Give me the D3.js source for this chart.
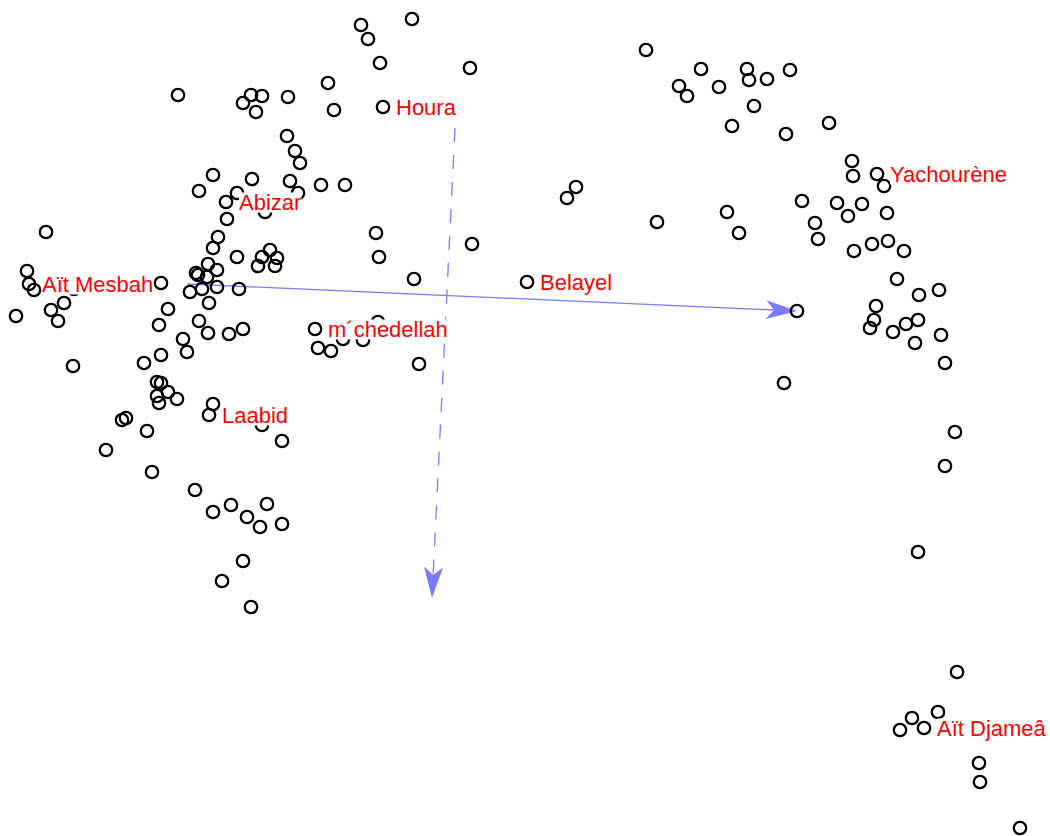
<!DOCTYPE html>
<html>
<head>
<meta charset="utf-8">
<script src="https://cdn.jsdelivr.net/npm/d3@7"></script>
<style>
  body { margin: 0; background: #fff; }
  svg { display: block; }
  .lbl { font-family: "Liberation Sans", Arial, sans-serif; font-size: 22px; fill: #ff0000; }
</style>
</head>
<body>
<div id="chart"></div>
<script>
// ============================= Datos: coordenadas de los individuos (eje 1, eje 2) =========================//
var ptX = [-2.67,-2.02,-1.94,-1.83,-1.89,-1.57,-1.17,-1.11,-1.58,-1.50,
  -1.45,-2.32,-1.93,-1.55,-1.24,-1.00,-2.46,-2.08,-1.47,-2.19,
  -1.80,-2.18,-3.99,-2.27,-2.32,-2.08,-1.75,-1.83,-1.68,-1.87,
  -1.70,-4.18,-2.37,-2.49,-2.47,-2.28,-2.38,-2.55,-2.43,-2.28,
  -2.06,-2.36,-2.77,-2.86,-2.46,-2.37,-2.16,-2.02,-2.62,-2.58,
  -2.84,-3.01,-2.88,-2.84,-2.88,-2.86,-2.77,-2.68,-2.32,-2.36,
  -3.23,-3.19,-2.98,-3.39,-1.63,-2.93,-2.50,-2.32,-2.14,-1.78,
  -1.98,-1.85,-1.63,-2.02,-2.23,-1.94,-1.83,-4.16,-4.11,-2.84,
  -4.29,-3.94,-3.81,-3.87,-3.72,-3.71,-0.84,-0.77,-0.33,-0.65,
  0.25,-0.62,-0.69,-0.66,0.27,-0.31,0.82,1.22,1.31,2.12,
  -1.30,-1.27,-1.14,-1.02,-0.82,-0.67,-0.26,2.01,2.56,2.34,
  2.42,2.74,3.02,3.04,3.22,3.45,3.09,2.87,3.41,3.84,
  4.07,4.08,4.32,4.39,2.82,2.94,3.57,3.92,4.17,4.03,
  4.42,3.70,3.73,4.09,4.27,4.43,4.59,4.52,4.74,4.94,
  4.31,4.29,4.25,4.48,4.61,4.73,4.70,4.96,5.00,3.52,
  3.39,5.10,5.00,4.73,5.12,4.67,4.55,4.79,4.93,5.34,
  5.35,5.75];

var ptY = [2.00,1.92,2.00,1.99,1.83,1.98,2.12,1.85,1.59,1.44,
  1.32,1.20,1.16,1.14,1.10,1.10,1.04,1.02,1.02,0.93,
  0.83,0.76,0.63,0.58,0.47,0.38,0.45,0.38,0.37,0.29,
  0.29,0.24,0.31,0.22,0.20,0.25,0.18,0.03,0.06,0.08,
  0.06,-0.08,-0.14,-0.30,-0.26,-0.38,-0.39,-0.34,-0.44,-0.57,
  -0.60,-0.68,-0.87,-0.88,-1.01,-1.08,-0.97,-1.04,-1.09,-1.20,
  -1.25,-1.23,-1.36,-1.55,-1.46,-1.77,-1.95,-2.17,-2.10,-2.09,
  -2.22,-2.32,-2.29,-2.66,-2.86,-3.12,-1.30,0.11,0.05,0.12,
  -0.21,-0.15,-0.08,-0.26,-0.71,0.06,2.70,2.56,2.76,2.32,
  2.27,1.88,0.62,0.38,0.51,0.16,0.13,0.97,1.08,0.73,
  -0.34,-0.53,-0.56,-0.44,-0.45,-0.27,-0.69,2.45,2.26,2.09,
  1.99,2.08,2.26,2.15,2.16,2.25,1.89,1.69,1.61,1.72,
  1.34,1.19,1.21,1.09,0.83,0.62,0.94,0.92,0.91,0.79,
  0.82,0.72,0.56,0.44,0.51,0.54,0.44,0.16,0.00,0.05,
  -0.11,-0.25,-0.33,-0.37,-0.29,-0.25,-0.48,-0.40,-0.68,-0.16,
  -0.88,-1.37,-1.71,-2.57,-3.77,-4.23,-4.35,-4.33,-4.17,-4.68,
  -4.87,-5.33];

// etiquetas de las localidades (coordenadas del individuo etiquetado)
var labelNames = ["Houra", "Abizar", "Yachourène", "Aït Mesbah", "Belayel", "m´chedellah", "Laabid", "Aït Djameâ"];
var labelX = [-0.62, -2.19, 4.32, -4.16, 0.82, -1.30, -2.36, 4.79];
var labelY = [1.88, 0.93, 1.21, 0.11, 0.13, -0.34, -1.20, -4.33];

// flechas de las variables: origen y extremo
var arrowX0 = [-2.58, 0.10];
var arrowY0 = [0.11, 1.67];
var arrowX1 = [3.52, -0.13];
var arrowY1 = [-0.16, -3.03];
var arrowDash = [false, true];

// ============================= Escalas =========================//
var width = 1050, height = 836;

var x = d3.scaleLinear().domain([-4.45, 6.05]).range([0, width]);
var y = d3.scaleLinear().domain([-5.41, 2.95]).range([height, 0]);

var svg = d3.select('#chart').append('svg')
  .attr('width', width)
  .attr('height', height)
  .style('background', '#fff');

// ============================= Flechas =========================//
var arrowColor = '#7b7bff';
var headLen = 31, headHalf = 9.5, notch = 8;

var arrows = d3.range(arrowX0.length).map(function(i) {
  return {x0: x(arrowX0[i]), y0: y(arrowY0[i]), x1: x(arrowX1[i]), y1: y(arrowY1[i]), dash: arrowDash[i]};
});

svg.selectAll('line.arrow')
  .data(arrows)
  .enter().append('line')
    .attr('class', 'arrow')
    .attr('x1', function(d) { return d.x0; })
    .attr('y1', function(d) { return d.y0; })
    .attr('x2', function(d) {
      var len = Math.hypot(d.x1 - d.x0, d.y1 - d.y0);
      return d.x1 - (d.x1 - d.x0) / len * (headLen - notch);
    })
    .attr('y2', function(d) {
      var len = Math.hypot(d.x1 - d.x0, d.y1 - d.y0);
      return d.y1 - (d.y1 - d.y0) / len * (headLen - notch);
    })
    .attr('stroke', arrowColor)
    .attr('stroke-width', 1.3)
    .attr('stroke-dasharray', function(d) { return d.dash ? '14,13' : null; });

svg.selectAll('path.head')
  .data(arrows)
  .enter().append('path')
    .attr('class', 'head')
    .attr('d', function(d) {
      var len = Math.hypot(d.x1 - d.x0, d.y1 - d.y0);
      var ux = (d.x1 - d.x0) / len, uy = (d.y1 - d.y0) / len;
      var px = -uy, py = ux;
      var bx = d.x1 - ux * headLen, by = d.y1 - uy * headLen;
      var nx = d.x1 - ux * (headLen - notch), ny = d.y1 - uy * (headLen - notch);
      return 'M' + d.x1 + ',' + d.y1 +
        'L' + (bx + px * headHalf) + ',' + (by + py * headHalf) +
        'L' + nx + ',' + ny +
        'L' + (bx - px * headHalf) + ',' + (by - py * headHalf) + 'Z';
    })
    .attr('fill', arrowColor);

// ============================= Puntos =========================//
svg.selectAll('circle.pt')
  .data(d3.range(ptX.length))
  .enter().append('circle')
    .attr('class', 'pt')
    .attr('cx', function(i) { return x(ptX[i]); })
    .attr('cy', function(i) { return y(ptY[i]); })
    .attr('r', 6.2)
    .attr('fill', 'none')
    .attr('stroke', '#000')
    .attr('stroke-width', 2.3);

// ============================= Etiquetas con fondo blanco =========================//
var labels = svg.selectAll('g.lbl')
  .data(labelNames)
  .enter().append('g');

labels.append('rect').attr('fill', '#fff');

labels.append('text')
  .attr('class', 'lbl')
  .attr('x', function(d, i) { return x(labelX[i]) + 13; })
  .attr('y', function(d, i) { return y(labelY[i]) + 7.5; })
  .text(function(d) { return d; });

labels.each(function() {
  var g = d3.select(this);
  var bb = g.select('text').node().getBBox();
  g.select('rect')
    .attr('x', bb.x)
    .attr('y', bb.y + 3)
    .attr('width', bb.width)
    .attr('height', bb.height - 5);
});
</script>
</body>
</html>
